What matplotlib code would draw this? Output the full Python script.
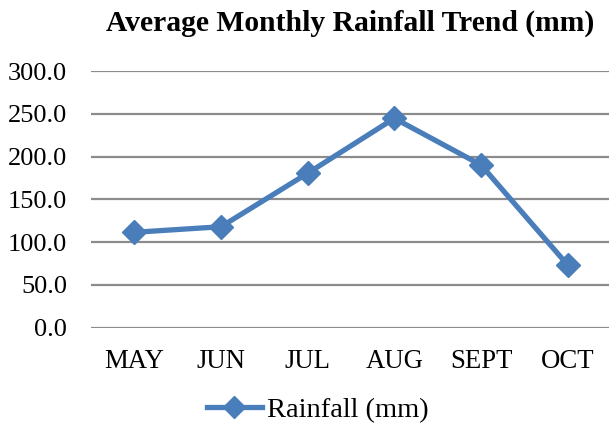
import matplotlib
matplotlib.use("Agg")
import matplotlib.pyplot as plt
from matplotlib.lines import Line2D

months = ["MAY", "JUN", "JUL", "AUG", "SEPT", "OCT"]
rainfall = [111.5, 118.0, 180.5, 244.7, 190.2, 73.3]
yticks = [0, 50, 100, 150, 200, 250, 300]

plt.rcParams['font.family'] = ['Liberation Serif', 'DejaVu Serif']

W, H = 609, 430
fig = plt.figure(figsize=(W/100, H/100), dpi=100)
left, right, top, bottom = 91, 611, 71, 327.7
ax = fig.add_axes([left/W, 1-bottom/H, (right-left)/W, (bottom-top)/H])

blue = "#4A7EBB"
x = list(range(len(months)))
ax.plot(x, rainfall, color=blue, lw=3.8, marker="D", markersize=12,
        markerfacecolor=blue, markeredgecolor=blue, solid_capstyle="round",
        solid_joinstyle="round", label="Rainfall (mm)", zorder=3)

ax.set_xlim(-0.5, len(months)-0.5)
ax.set_ylim(0, 300)
ax.set_yticks(yticks)
ax.set_yticklabels([f"{v:.1f}" for v in yticks], fontsize=19)
ax.set_xticks(x)
ax.set_xticklabels(months, fontsize=19.3)
ax.tick_params(length=0)
ax.tick_params(axis='x', pad=15.5)
ax.tick_params(axis='y', pad=17.3)
for s in ax.spines.values():
    s.set_visible(False)
ax.grid(axis='y', color="#8C8C8C", lw=1.6)
ax.set_axisbelow(True)

fig.text(350/W, 1-31/H, "Average Monthly Rainfall Trend (mm)", ha="center", va="baseline",
         fontsize=21.3, fontweight="bold")

handle = Line2D([0], [0], color=blue, lw=3.8, marker="D", markersize=11,
                markerfacecolor=blue, markeredgecolor=blue)
fig.legend([handle], ["Rainfall (mm)"], loc="center", bbox_to_anchor=(317.5/W, 1-410/H),
           frameon=False, fontsize=20.5, handlelength=1.93, handletextpad=0.18)

fig.savefig("out.png", dpi=100)
